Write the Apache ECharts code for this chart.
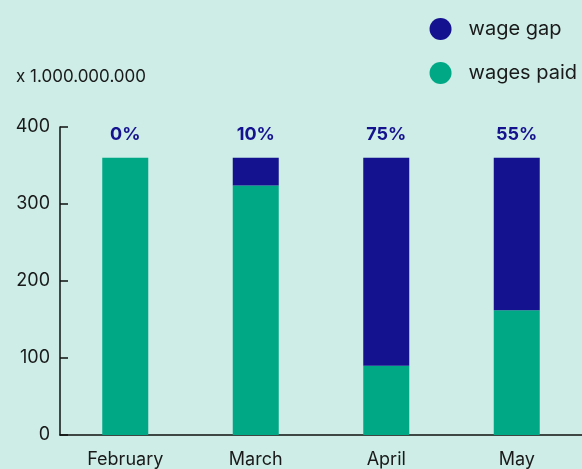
<!DOCTYPE html>
<html>
<head>
<meta charset="utf-8">
<script src="https://cdn.jsdelivr.net/npm/echarts@6/dist/echarts.min.js"></script>
<style>
  html, body { margin: 0; padding: 0; background: #cdede6; }
  #main { width: 582px; height: 469px; }
</style>
</head>
<body>
<div id="main"></div>
<script>
// data
var months = ['February', 'March', 'April', 'May'];
var wagesPaid = [360, 324, 90, 162];
var wageGap = [0, 36, 270, 198];
var gapPct = ['0%', '10%', '75%', '55%'];
var yTicks = [0, 100, 200, 300, 400];

var blue = '#15128f';
var green = '#00a886';
var font = 'Inter';

var myChart = echarts.init(document.getElementById('main'));

var option = {
    backgroundColor: '#cdede6',
    title: {
        text: 'x 1.000.000.000',
        left: 11,
        top: 63,
        textStyle: { fontFamily: font, fontSize: 17, fontWeight: 'normal', color: '#1a1a1a' }
    },
    legend: {
        data: ['wage gap', 'wages paid'],
        orient: 'vertical',
        right: 0,
        top: 13,
        icon: 'circle',
        itemWidth: 22,
        itemHeight: 22,
        itemGap: 22,
        textStyle: { fontFamily: font, fontSize: 20, color: '#1a1a1a', padding: [0, 0, 0, 12] }
    },
    grid: { left: 60, right: 0, top: 127, bottom: 34, outerBoundsMode: 'none' },
    xAxis: {
        type: 'category',
        data: months,
        axisLine: { lineStyle: { color: '#111', width: 1.5 } },
        axisTick: { show: false },
        axisLabel: { fontFamily: font, fontSize: 18, color: '#1a1a1a', margin: 16 }
    },
    yAxis: {
        type: 'value',
        min: yTicks[0],
        max: yTicks[yTicks.length - 1],
        interval: 100,
        splitLine: { show: false },
        axisLine: { show: true, lineStyle: { color: '#111', width: 1.5 } },
        axisTick: { show: true, inside: true, length: 8, lineStyle: { color: '#111', width: 1.5 } },
        axisLabel: { fontFamily: font, fontSize: 18, color: '#1a1a1a', margin: 10 }
    },
    series: [
        {
            name: 'wages paid',
            type: 'bar',
            stack: 'total',
            barWidth: 46,
            itemStyle: { color: green },
            data: wagesPaid
        },
        {
            name: 'wage gap',
            type: 'bar',
            stack: 'total',
            barWidth: 46,
            itemStyle: { color: blue },
            label: {
                show: true,
                position: 'top',
                distance: 14,
                fontFamily: font,
                fontSize: 18,
                fontWeight: 'bold',
                color: blue,
                formatter: function (p) { return gapPct[p.dataIndex]; }
            },
            data: wageGap
        }
    ]
};

myChart.setOption(option);
</script>
</body>
</html>
